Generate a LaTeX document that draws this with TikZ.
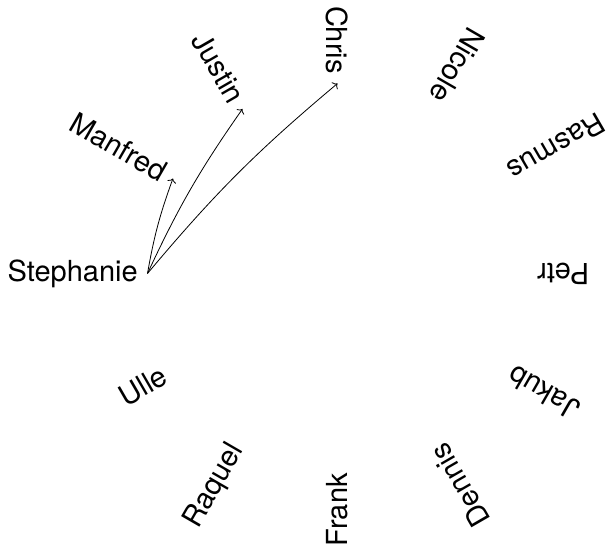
\documentclass[tikz,border=0pt]{standalone}
\usepackage{fontspec}
\usetikzlibrary{arrows.meta}
\setmainfont{TeX Gyre Heros}
\begin{document}
\begin{tikzpicture}[x=1pt, y=1pt,
  person/.style={font=\fontsize{29}{35}\selectfont, inner sep=9.6pt, anchor=east},
  link/.style={-{To[length=4pt, width=9pt]}, line width=0.8pt, bend left=5}]
  \useasboundingbox (-337.5,-271.5) rectangle (269.5,273.5);
  % names around a circle, each turned so that it points to the centre
  \foreach \who/\ang in {Stephanie/180, Manfred/150, Justin/120, Chris/90,
      Nicole/60, Rasmus/30, Petr/0, Jakub/-30, Dennis/-60, Frank/-90,
      Raquel/-120, Ulle/-150}
    \node[person, rotate=\ang+180] (\who) at (\ang:190pt) {\who};
  % Stephanie's links
  \draw[link] (Stephanie.east) to (Manfred.east);
  \draw[link] (Stephanie.east) to (Justin.east);
  \draw[link] (Stephanie.east) to (Chris.east);
\end{tikzpicture}
\end{document}
